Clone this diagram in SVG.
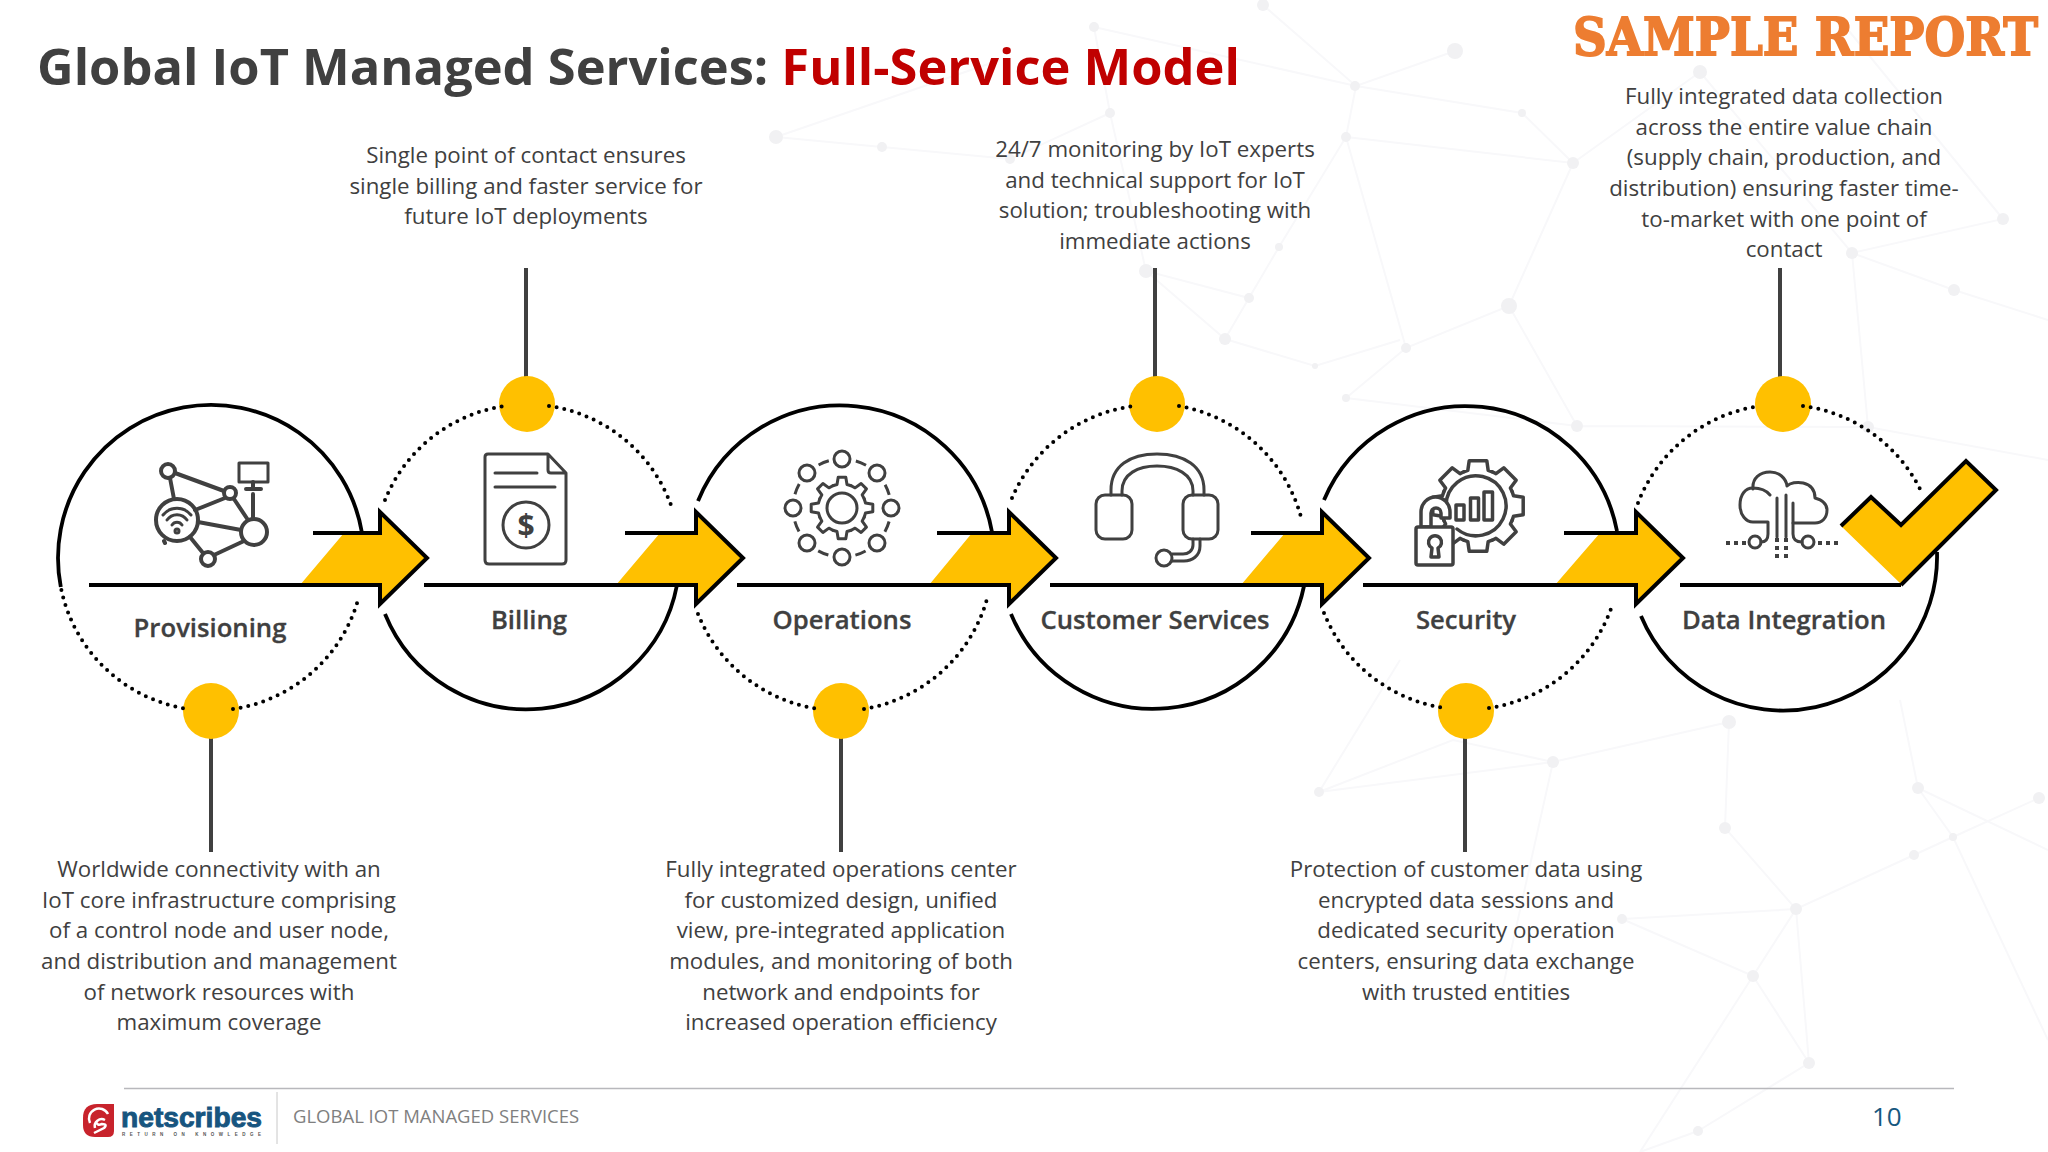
<svg xmlns="http://www.w3.org/2000/svg" xmlns:xlink="http://www.w3.org/1999/xlink" width="2048" height="1152" viewBox="0 0 2048 1152">
<style>
text{font-family:"Open Sans","Noto Sans","Liberation Sans",sans-serif;fill:#404040}
.body{font-size:22.3px;text-anchor:middle}
.lab{font-size:25.7px;font-weight:600;text-anchor:middle;stroke:#404040;stroke-width:.3px}
.bgl{stroke:#f8f8fa;stroke-width:2;fill:none}
.bgd{fill:#f1f1f3}
.solid{fill:none;stroke:#000;stroke-width:3.800}
.dot{fill:none;stroke:#000;stroke-width:4;stroke-linecap:round;stroke-dasharray:0 7.800}
.y{fill:#FFC000}
.lead{stroke:#404040;stroke-width:4;fill:none}
.arr{fill:none;stroke:#000;stroke-width:4;stroke-linejoin:miter}
.ic{fill:none;stroke:#404040;stroke-width:3;stroke-linejoin:round;stroke-linecap:round}
</style>
<defs>
<path id="t8" d="M22.200-9.200L23.500-5L30.800-3.800V3.800L23.500 5L22.200 9.200"/>
<path id="g8" d="M34.200-14.200L35.600-10.200L45.200-8.800V8.800L35.600 10.200L34.200 14.200"/>
</defs>
<rect width="2048" height="1152" fill="#fff"/>
<g id="background">
<path class="bgl" d="M776 137L882 147L1010 159M776 137L1000 60M1094 27L1110 113L1146 271L1249 298L1279 247L1346 137L1356 86L1263 5M1094 27L1356 86L1455 51M1110 113L1010 159M1346 137L1573 163L1522 113L1356 86M1346 137L1406 348L1509 306L1573 163M1700 72L1573 163M1700 72L1852 253L2003 219L1840 20M1852 253L1954 290L2048 320M1509 306L1577 426L1346 398L1406 348M1225 339L1315 366L1400 340M1225 339L1146 271M1249 298L1225 339M1577 426L1868 427L2048 460M1868 427L1852 253M1729 722L1553 762L1319 792L1453 740L1553 762M1729 722L1725 828L1796 909L1753 976L1622 919L1796 909L1914 855L1953 837L2039 798M1796 909L1809 1063L1753 976L1640 1152M1698 1131L1640 1152M1698 1131L1809 1063M1918 788L1953 837L2048 1040M1918 788L2048 850M1918 788L1900 700M1553 762L1500 1000M1319 792L1400 660"/>
<g class="bgd"><circle cx="776" cy="137" r="7"/><circle cx="882" cy="147" r="5"/><circle cx="1010" cy="159" r="5"/><circle cx="1110" cy="113" r="5"/><circle cx="1094" cy="27" r="5"/><circle cx="1263" cy="5" r="6"/><circle cx="1355" cy="86" r="5"/><circle cx="1346" cy="137" r="5"/><circle cx="1146" cy="271" r="7"/><circle cx="1249" cy="298" r="5"/><circle cx="1225" cy="339" r="6"/><circle cx="1315" cy="366" r="3"/><circle cx="1279" cy="247" r="4"/><circle cx="1455" cy="51" r="8"/><circle cx="1573" cy="163" r="6"/><circle cx="1522" cy="113" r="4"/><circle cx="1700" cy="72" r="7"/><circle cx="2003" cy="219" r="6"/><circle cx="1852" cy="253" r="6"/><circle cx="1509" cy="306" r="8"/><circle cx="1954" cy="290" r="6"/><circle cx="1406" cy="348" r="5"/><circle cx="1346" cy="398" r="4"/><circle cx="1577" cy="426" r="6"/><circle cx="1868" cy="427" r="6"/><circle cx="1729" cy="722" r="7"/><circle cx="1553" cy="762" r="6"/><circle cx="1319" cy="792" r="5"/><circle cx="1918" cy="788" r="6"/><circle cx="2039" cy="798" r="6"/><circle cx="1725" cy="828" r="6"/><circle cx="1953" cy="837" r="4"/><circle cx="1914" cy="855" r="5"/><circle cx="1796" cy="909" r="6"/><circle cx="1622" cy="919" r="5"/><circle cx="1753" cy="976" r="6"/><circle cx="1809" cy="1063" r="6"/><circle cx="1698" cy="1131" r="5"/></g>
</g>

<text x="37" y="85" font-size="50.600" font-weight="700" id="title" style="fill:#404040">Global IoT Managed Services: <tspan style="fill:#C00000">Full-Service Model</tspan></text>
<text id="stamp" transform="translate(1573 55) scale(1 1.180)" font-size="45" font-weight="700" textLength="465" lengthAdjust="spacingAndGlyphs" stroke="#ED7D31" stroke-width="1.500" style="font-family:'DejaVu Serif','Liberation Serif',serif;fill:#ED7D31">SAMPLE REPORT</text>

<g id="connectors">
<path class="lead" d="M211 738V852M526 268V380M841 738V852M1155 268V380M1465 738V852M1780 268V380"/>
</g>

<g id="node-provisioning">
<circle class="y" cx="211" cy="711" r="28"/>
<path class="solid" d="M60.800 587A153 153 0 1 1 361.800 532"/>
<path class="dot" d="M61.400 590A153 153 0 0 0 188 709M233 709A153 153 0 0 0 358 600"/>
<g class="ic" style="stroke-width:4">
<circle cx="168" cy="471" r="7"/><circle cx="230" cy="493" r="6"/><circle cx="177" cy="520" r="21"/><circle cx="254" cy="532" r="13"/><circle cx="208" cy="559" r="7"/>
<path d="M175 473L224 491M170 478L174 499M225 498L195 510M234 499L248 520M198 522L241 530M190 537L203 553M214 555L244 541M253 494V518M165 543L164 541"/>
<g style="stroke-width:3"><rect x="239" y="463" width="29" height="19"/></g><path d="M253 482V488M246 489H261"/>
<g style="stroke-width:3"><path d="M163 515A18 18 0 0 1 191 515M167 520A12 12 0 0 1 187 520M172 525A6 6 0 0 1 182 525"/></g><circle cx="177" cy="531" r="1.500"/>
</g>
<text class="lab" x="210" y="637">Provisioning</text>
<text class="body"><tspan x="219" y="877">Worldwide connectivity with an</tspan><tspan x="219" y="908">IoT core infrastructure comprising</tspan><tspan x="219" y="938">of a control node and user node,</tspan><tspan x="219" y="969">and distribution and management</tspan><tspan x="219" y="1000">of network resources with</tspan><tspan x="219" y="1030">maximum coverage</tspan></text>
</g>

<g id="node-billing">
<circle class="y" cx="527" cy="404" r="28"/>
<path class="dot" d="M385 500A153 153 0 0 1 505 406M549 406A153 153 0 0 1 672 508"/>
<path class="solid" d="M385 614A153 153 0 0 0 677 585"/>
<g class="ic"><path d="M488 454H548L566 473V560Q566 564 562 564H489Q485 564 485 560V457Q485 454 488 454ZM548 454V470Q548 473 551 473H566M495 473H537M495 487H555"/><circle cx="526" cy="525" r="23"/></g>
<text x="526" y="536" font-size="30" font-weight="700" text-anchor="middle">$</text>
<text class="lab" x="529" y="629">Billing</text>
<text class="body"><tspan x="526" y="163">Single point of contact ensures</tspan><tspan x="526" y="194">single billing and faster service for</tspan><tspan x="526" y="224">future IoT deployments</tspan></text>
</g>

<g id="node-operations">
<circle class="y" cx="841" cy="711" r="28"/>
<path class="solid" d="M698 501A154 154 0 0 1 992 532"/>
<path class="dot" d="M698 614A154 154 0 0 0 819 709M864 709A154 154 0 0 0 987 599"/>
<g class="ic" transform="translate(842 508)">
<circle r="15"/>
<use xlink:href="#t8" href="#t8"/><use xlink:href="#t8" href="#t8" transform="rotate(45)"/><use xlink:href="#t8" href="#t8" transform="rotate(90)"/><use xlink:href="#t8" href="#t8" transform="rotate(135)"/><use xlink:href="#t8" href="#t8" transform="rotate(180)"/><use xlink:href="#t8" href="#t8" transform="rotate(225)"/><use xlink:href="#t8" href="#t8" transform="rotate(270)"/><use xlink:href="#t8" href="#t8" transform="rotate(315)"/>
<circle r="49" stroke-dasharray="11 27.480" stroke-dashoffset="-13.740" stroke-linecap="butt"/>
<circle cx="0" cy="-49" r="8"/><circle cx="35" cy="-35" r="8"/><circle cx="49" cy="0" r="8"/><circle cx="35" cy="35" r="8"/><circle cx="0" cy="49" r="8"/><circle cx="-35" cy="35" r="8"/><circle cx="-49" cy="0" r="8"/><circle cx="-35" cy="-35" r="8"/>
</g>
<text class="lab" x="842" y="629">Operations</text>
<text class="body"><tspan x="841" y="877">Fully integrated operations center</tspan><tspan x="841" y="908">for customized design, unified</tspan><tspan x="841" y="938">view, pre-integrated application</tspan><tspan x="841" y="969">modules, and monitoring of both</tspan><tspan x="841" y="1000">network and endpoints for</tspan><tspan x="841" y="1030">increased operation efficiency</tspan></text>
</g>

<g id="node-customer-services">
<circle class="y" cx="1157" cy="404" r="28"/>
<path class="dot" d="M1012 498A154 154 0 0 1 1134 406M1179 406A154 154 0 0 1 1301 517"/>
<path class="solid" d="M1011 614A154 154 0 0 0 1304 586"/>
<g class="ic">
<rect x="1096" y="495" width="36" height="44" rx="9"/><rect x="1183" y="495" width="35" height="44" rx="9"/>
<path d="M1111 495V490C1111 466 1130 454 1157 454C1184 454 1204 466 1204 490V495M1122 495V491C1122 474 1138 466 1157 466C1176 466 1193 474 1193 491V495"/>
<path d="M1200 539V546C1200 556 1192 561 1184 561H1172M1193 539V545C1193 551 1188 554 1183 554H1172"/><circle cx="1164" cy="558" r="8"/>
</g>
<text class="lab" x="1155" y="629">Customer Services</text>
<text class="body"><tspan x="1155" y="157">24/7 monitoring by IoT experts</tspan><tspan x="1155" y="188">and technical support for IoT</tspan><tspan x="1155" y="218">solution; troubleshooting with</tspan><tspan x="1155" y="249">immediate actions</tspan></text>
</g>

<g id="node-security">
<circle class="y" cx="1466" cy="711" r="28"/>
<path class="solid" d="M1324 500A154 154 0 0 1 1617 531"/>
<path class="dot" d="M1324 613A154 154 0 0 0 1445 708M1489 708A154 154 0 0 0 1612 606"/>
<g class="ic" style="stroke-width:3.500">
<g transform="translate(1478 506) rotate(-90)"><use xlink:href="#g8" href="#g8"/><use xlink:href="#g8" href="#g8" transform="rotate(45)"/><use xlink:href="#g8" href="#g8" transform="rotate(90)"/><use xlink:href="#g8" href="#g8" transform="rotate(135)"/><use xlink:href="#g8" href="#g8" transform="rotate(180)"/><use xlink:href="#g8" href="#g8" transform="rotate(225)"/><use xlink:href="#g8" href="#g8" transform="rotate(270)"/><use xlink:href="#g8" href="#g8" transform="rotate(315)"/></g>
<path d="M1457 529A30 30 0 1 0 1446 506"/>
<rect x="1456" y="505" width="8" height="15"/><rect x="1470.500" y="498" width="8" height="22"/><rect x="1484" y="492" width="8.500" height="28"/>
<path fill="#fff" d="M1421 527V512A14.500 15 0 0 1 1450 512V518H1441V513A5 5 0 0 0 1431 513V527Z"/>
<rect x="1416" y="527" width="37" height="38" rx="2" fill="#fff"/>
<path d="M1432 548A6.500 6.500 0 1 1 1438 548L1439 557H1431Z"/>
</g>
<text class="lab" x="1466" y="629">Security</text>
<text class="body"><tspan x="1466" y="877">Protection of customer data using</tspan><tspan x="1466" y="908">encrypted data sessions and</tspan><tspan x="1466" y="938">dedicated security operation</tspan><tspan x="1466" y="969">centers, ensuring data exchange</tspan><tspan x="1466" y="1000">with trusted entities</tspan></text>
</g>

<g id="node-data-integration">
<circle class="y" cx="1783" cy="404" r="28"/>
<path class="dot" d="M1638 503A154 154 0 0 1 1760 406M1803 406A154 154 0 0 1 1922 493"/>
<path class="solid" d="M1641 616A154 154 0 0 0 1937 552"/>
<g class="ic">
<path d="M1753 489C1752 478 1760 472 1770 472C1779 472 1786 478 1787 486C1793 480 1815 480 1815 498C1823 500 1827 505 1827 510C1827 518 1822 523 1815 523H1793"/>
<path d="M1770 495C1766 490 1760 488 1753 488C1745 488 1740 495 1740 505C1740 515 1746 522 1753 522H1768V534Q1768 542 1761 542M1777 498V537M1786 495V537M1793 503V534Q1793 542 1802 542"/>
<circle cx="1755" cy="542" r="6"/><circle cx="1808" cy="542" r="6"/>
<path style="stroke-linecap:butt;stroke-width:4" stroke-dasharray="4 4" d="M1726 543H1747M1818 543H1838M1777 538V560M1786 538V560"/>
</g>
<text class="lab" x="1784" y="629">Data Integration</text>
<text class="body"><tspan x="1784" y="104">Fully integrated data collection</tspan><tspan x="1784" y="135">across the entire value chain</tspan><tspan x="1784" y="165">(supply chain, production, and</tspan><tspan x="1784" y="196">distribution) ensuring faster time-</tspan><tspan x="1784" y="227">to-market with one point of</tspan><tspan x="1784" y="257">contact</tspan></text>
</g>

<g id="arrows">
<path class="y" d="M344 533H380V510L427 558L380 605V585H300ZM660 533H696V510L743 558L696 605V585H616ZM972 533H1009V510L1056 558L1009 605V585H929ZM1285 533H1322V510L1369 558L1322 605V585H1241ZM1600 533H1636V510L1683 558L1636 605V585H1555Z"/>
<path class="arr" d="M313 533H380V512L427 558L380 604V585H89M625 533H696V512L743 558L696 604V585H424M937 533H1009V512L1056 558L1009 604V585H737M1251 533H1322V512L1369 558L1322 604V585H1050M1564 533H1636V512L1683 558L1636 604V585H1363M1680 585H1901"/>
</g>
<g id="checkmark">
<path class="y" d="M1966 461L1996 490L1901 584L1841 526L1871 497L1901 525Z"/>
<path class="arr" d="M1841 526L1871 497L1901 525L1966 461L1996 490L1901 585"/>
</g>

<g id="footer">
<path d="M124 1088.500H1954" stroke="#b8b8bc" stroke-width="1.500"/>
<path d="M277 1092V1144" stroke="#c8c8c8" stroke-width="1"/>
<path d="M97 1104H114V1131Q114 1137 108 1137H95Q83 1137 83 1125V1118Q83 1104 97 1104Z" fill="#C8232C"/>
<path d="M90 1123A10 10 0 0 1 108 1114M95 1128A7 7 0 0 1 105 1120" fill="none" stroke="#fff" stroke-width="2.500"/>
<path d="M94 1133L104 1128Q108 1124 102 1124Q97 1126 96 1122" fill="none" stroke="#fff" stroke-width="2.500"/>
<text x="121" y="1127" font-size="27" font-weight="700" textLength="141" lengthAdjust="spacingAndGlyphs" stroke="#17557F" stroke-width=".9" style="font-family:'Liberation Sans',Arial,sans-serif;fill:#17557F">netscribes</text>
<text x="122" y="1136" font-size="4.500" font-weight="700" textLength="139" style="font-family:'Liberation Sans',Arial,sans-serif;fill:#555">RETURN ON KNOWLEDGE</text>
<text x="293" y="1123" font-size="18.500" style="fill:#7f7f7f">GLOBAL IOT MANAGED SERVICES</text>
<text x="1872" y="1126" font-size="26" style="fill:#17587F">10</text>
</g>
</svg>
